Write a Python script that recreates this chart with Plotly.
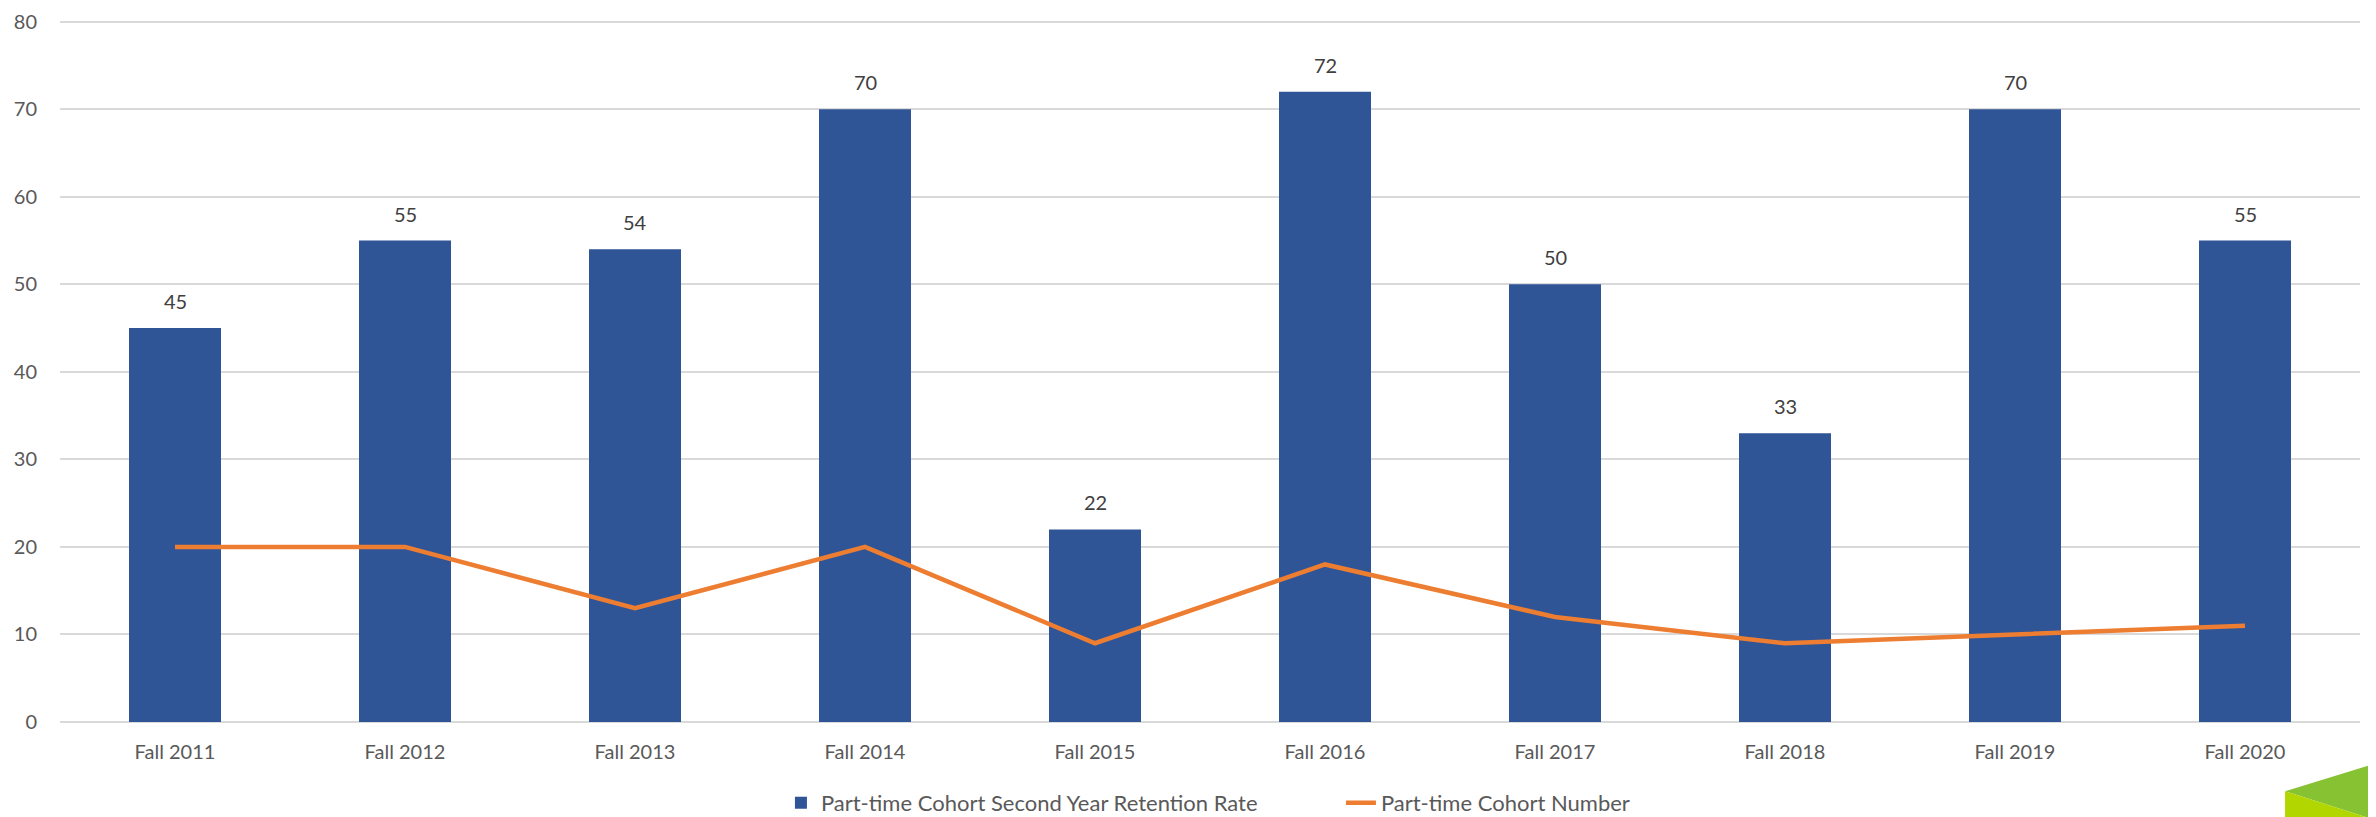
import plotly.graph_objects as go

categories = ["Fall 2011", "Fall 2012", "Fall 2013", "Fall 2014", "Fall 2015",
              "Fall 2016", "Fall 2017", "Fall 2018", "Fall 2019", "Fall 2020"]
retention_rate = [45, 55, 54, 70, 22, 72, 50, 33, 70, 55]
cohort_number = [20, 20, 13, 20, 9, 18, 12, 9, 10, 11]
y_ticks = [0, 10, 20, 30, 40, 50, 60, 70, 80]

FONT = "Lato"
TXT = "#595959"

fig = go.Figure()
fig.add_trace(go.Bar(
    x=categories, y=retention_rate,
    name="Part-time Cohort Second Year Retention Rate",
    marker=dict(color="#2F5597", line=dict(width=0)),
))
fig.add_trace(go.Scatter(
    x=categories, y=cohort_number, mode="lines",
    name="Part-time Cohort Number",
    line=dict(color="#ED7D31", width=4.5),
))

for c, v in zip(categories, retention_rate):
    fig.add_annotation(x=c, y=v, text=str(v), showarrow=False,
                       yanchor="middle", yshift=27,
                       font=dict(family=FONT, size=20, color="#404040"))

# decorative green corner
fig.add_shape(type="path", xref="paper", yref="paper",
              path="M 0.9674 -0.0986 L 1.0070 -0.0586 L 1.0070 -0.14 Z",
              fillcolor="#86C232", line=dict(width=0), layer="above")
fig.add_shape(type="path", xref="paper", yref="paper",
              path="M 0.9674 -0.0986 L 1.0070 -0.14 L 0.9674 -0.14 Z",
              fillcolor="#B2D700", line=dict(width=0), layer="above")

fig.update_layout(
    width=2376, height=817,
    margin=dict(l=52, r=24, t=12, b=103, autoexpand=False),
    paper_bgcolor="white", plot_bgcolor="white",
    bargap=0.6,
    font=dict(family=FONT, size=20, color=TXT),
    showlegend=True,
    legend=dict(orientation="h", xref="container", yref="container",
                x=0.561, xanchor="center", y=0.027, yanchor="middle",
                entrywidth=515, entrywidthmode="pixels",
                bgcolor="rgba(0,0,0,0)",
                font=dict(family=FONT, size=22, color=TXT), traceorder="normal"),
    xaxis=dict(showgrid=False, showline=False, ticks="", tickfont=dict(size=20, color=TXT),
               ticklabelstandoff=16, automargin=False),
    yaxis=dict(range=[0, 80.2], tickvals=y_ticks, showgrid=True, gridcolor="#D9D9D9",
               gridwidth=1.5, zeroline=True, zerolinecolor="#D9D9D9", zerolinewidth=1.5,
               showline=False, ticks="", tickfont=dict(size=20, color=TXT),
               ticklabelstandoff=22, automargin=False, ticklabeloverflow="allow"),
)

fig.write_html("out.html")
